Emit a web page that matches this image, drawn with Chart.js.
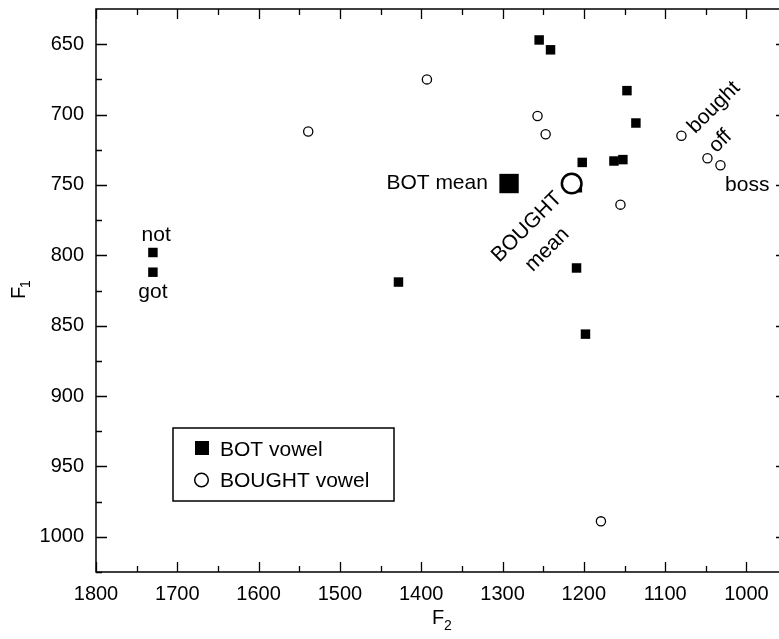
<!DOCTYPE html>
<html>
<head>
<meta charset="utf-8">
<script src="https://cdn.jsdelivr.net/npm/chart.js@4/dist/chart.umd.min.js"></script>
<style>
  body { margin: 0; background: #fff; }
  canvas { display: block; }
</style>
</head>
<body>
<canvas id="chart" width="779" height="639"></canvas>
<script>
// BOT vowel tokens (filled squares)
const botF2 = [1730, 1730, 1428, 1255, 1241, 1147, 1136, 1202, 1163, 1152, 1208, 1209, 1198];
const botF1 = [798, 812, 819, 647, 654, 683, 706, 734, 733, 732, 752, 809, 856];

// BOUGHT vowel tokens (open circles)
const boughtF2 = [1539, 1393, 1257, 1247, 1155, 1080, 1048, 1032, 1179];
const boughtF1 = [712, 675, 701, 714, 764, 715, 731, 736, 989];

// means
const botMeanF2 = [1292];
const botMeanF1 = [749];
const boughtMeanF2 = [1215];
const boughtMeanF1 = [749];

// axis ticks
const xTicks = [1800, 1700, 1600, 1500, 1400, 1300, 1200, 1100, 1000];
const yTicks = [650, 700, 750, 800, 850, 900, 950, 1000];

// word labels, placed in F2/F1 units
const noteText = ['not', 'got', 'BOT mean', 'BOUGHT', 'mean', 'bought', 'off', 'boss'];
const noteF2 = [1726, 1730, 1318, 1270, 1245, 1040, 1032, 999];
const noteF1 = [786, 826, 749, 780, 796, 695, 719, 750];

const legendLabels = ['BOT vowel', 'BOUGHT vowel'];

const FONT = '"Liberation Sans", Arial, Helvetica, sans-serif';

function toPoints(xs, ys) {
    return xs.map((x, i) => ({ x: x, y: ys[i] }));
}

// look of each note: angle (deg) and alignment
const noteAngle = [0, 0, 0, -45, -45, -45, -45, 0];
const noteAlign = ['center', 'center', 'right', 'center', 'center', 'center', 'center', 'center'];

const decorPlugin = {
    id: 'decor',
    afterDatasetsDraw(chart) {
        const ctx = chart.ctx;
        const a = chart.chartArea;
        const xs = chart.scales.x;
        const ys = chart.scales.y;
        ctx.save();
        ctx.strokeStyle = '#000';
        ctx.fillStyle = '#000';
        ctx.lineWidth = 1.5;

        // frame (right side falls just off the picture)
        ctx.beginPath();
        ctx.moveTo(a.right + 2, a.top);
        ctx.lineTo(a.left, a.top);
        ctx.lineTo(a.left, a.bottom);
        ctx.lineTo(a.right + 2, a.bottom);
        ctx.stroke();

        // inward ticks
        ctx.lineWidth = 1.3;
        ctx.beginPath();
        for (let v = 1800; v >= 1000; v -= 50) {
            const px = Math.round(xs.getPixelForValue(v)) + 0.5;
            const len = v % 100 === 0 ? 10 : 6;
            ctx.moveTo(px, a.bottom);
            ctx.lineTo(px, a.bottom - len);
            ctx.moveTo(px, a.top);
            ctx.lineTo(px, a.top + len);
        }
        for (let v = 650; v <= 1025; v += 25) {
            const py = Math.round(ys.getPixelForValue(v)) + 0.5;
            const len = v % 50 === 0 ? 11 : 6;
            ctx.moveTo(a.left, py);
            ctx.lineTo(a.left + len, py);
            if (v % 50 === 0) {
                ctx.moveTo(a.right, py);
                ctx.lineTo(a.right - 3, py);
            }
        }
        ctx.stroke();

        // word labels
        ctx.font = '21px ' + FONT;
        ctx.textBaseline = 'middle';
        noteText.forEach((t, i) => {
            const px = xs.getPixelForValue(noteF2[i]);
            const py = ys.getPixelForValue(noteF1[i]);
            ctx.save();
            ctx.translate(px, py);
            ctx.rotate(noteAngle[i] * Math.PI / 180);
            ctx.textAlign = noteAlign[i];
            ctx.fillText(t, 0, 0);
            ctx.restore();
        });

        // legend box
        ctx.lineWidth = 1.5;
        ctx.strokeRect(173, 428, 221, 73);
        ctx.fillRect(195, 441, 14, 14);
        ctx.beginPath();
        ctx.arc(201.5, 480, 6.8, 0, Math.PI * 2);
        ctx.stroke();
        ctx.textAlign = 'left';
        ctx.textBaseline = 'alphabetic';
        ctx.fillText(legendLabels[0], 220, 456);
        ctx.fillText(legendLabels[1], 220, 487);

        // axis titles F1 / F2 with subscripts
        ctx.save();
        ctx.translate(25, 299);
        ctx.rotate(-Math.PI / 2);
        ctx.font = '20px ' + FONT;
        ctx.fillText('F', 0, 0);
        ctx.font = '14px ' + FONT;
        ctx.fillText('1', 11, 5);
        ctx.restore();

        ctx.font = '20px ' + FONT;
        ctx.fillText('F', 432, 624);
        ctx.font = '14px ' + FONT;
        ctx.fillText('2', 444, 630);

        ctx.restore();
    }
};

const ctx = document.getElementById('chart');
new Chart(ctx, {
    type: 'scatter',
    data: {
        datasets: [
            {
                label: 'BOUGHT mean',
                data: toPoints(boughtMeanF2, boughtMeanF1),
                pointStyle: 'circle',
                pointRadius: 9.8,
                pointBorderWidth: 2.5,
                pointBorderColor: '#000',
                pointBackgroundColor: '#fff',
                order: 0
            },
            {
                label: 'BOT mean',
                data: toPoints(botMeanF2, botMeanF1),
                pointStyle: 'rect',
                pointRadius: 13.7,
                pointBorderWidth: 0,
                pointBackgroundColor: '#000',
                order: 1
            },
            {
                label: 'BOUGHT vowel',
                data: toPoints(boughtF2, boughtF1),
                pointStyle: 'circle',
                pointRadius: 4.6,
                pointBorderWidth: 1.3,
                pointBorderColor: '#000',
                pointBackgroundColor: '#fff',
                order: 2
            },
            {
                label: 'BOT vowel',
                data: toPoints(botF2, botF1),
                pointStyle: 'rect',
                pointRadius: 6.7,
                pointBorderWidth: 0,
                pointBackgroundColor: '#000',
                order: 3
            }
        ]
    },
    options: {
        responsive: false,
        animation: false,
        layout: { autoPadding: false, padding: { top: 9, right: 0, left: 0, bottom: 0 } },
        plugins: {
            legend: { display: false },
            tooltip: { enabled: false }
        },
        scales: {
            x: {
                type: 'linear',
                reverse: true,
                min: 960,
                max: 1800,
                grid: { display: false, drawTicks: false },
                border: { display: false },
                afterBuildTicks: scale => { scale.ticks = xTicks.map(v => ({ value: v })); },
                afterFit: scale => {
                    scale.height = 67;
                    scale.paddingLeft = 0;
                    scale.paddingRight = 0;
                },
                ticks: {
                    color: '#000',
                    padding: 10,
                    maxRotation: 0,
                    font: { family: FONT, size: 20 },
                    callback: v => String(v)
                }
            },
            y: {
                type: 'linear',
                reverse: true,
                min: 625,
                max: 1025,
                grid: { display: false, drawTicks: false },
                border: { display: false },
                afterBuildTicks: scale => { scale.ticks = yTicks.map(v => ({ value: v })); },
                afterFit: scale => {
                    scale.width = 96;
                    scale.paddingTop = 0;
                    scale.paddingBottom = 0;
                },
                ticks: {
                    color: '#000',
                    padding: 12,
                    font: { family: FONT, size: 20 },
                    callback: v => String(v)
                }
            }
        }
    },
    plugins: [decorPlugin]
});
</script>
</body>
</html>
